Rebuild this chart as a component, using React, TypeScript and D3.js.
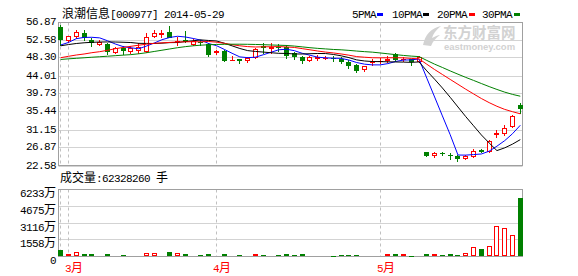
import React from 'react';
import * as d3 from 'd3';

// ---- data ----
const opens = [55.68, 52.70, 53.65, 54.18, 52.70, 51.75, 51.63, 49.65, 50.56, 49.95,
  50.21, 50.08, 53.42, 54.08, 54.42, 52.30, 52.51, 51.63, 52.22, 51.63,
  49.77, 49.96, 47.80, 48.06, 47.74, 48.65, 51.04, 50.75, 50.85, 50.92,
  49.42, 48.54, 47.82, 48.37, 48.20, 48.30, 47.99, 47.42, 46.56, 45.61,
  47.30, 47.55, 47.82, 49.18, 48.00, 47.99, 47.58, 25.84, 25.20, 25.65,
  25.25, 24.96, 24.37, 25.08, 26.32, 26.22, 30.30, 30.37, 32.11, 37.11];
const highs = [56.08, 53.65, 54.97, 54.97, 53.13, 52.58, 51.80, 50.80, 51.04, 51.04,
  51.87, 54.18, 54.97, 54.85, 55.92, 53.37, 54.80, 52.82, 52.58, 51.87,
  50.20, 50.20, 48.70, 48.06, 48.65, 50.56, 51.94, 51.87, 51.63, 51.39,
  49.80, 48.77, 48.77, 49.01, 48.77, 48.77, 48.54, 47.82, 46.87, 46.50,
  47.99, 48.18, 48.77, 49.37, 48.65, 48.13, 48.89, 25.91, 25.84, 25.91,
  25.56, 25.20, 25.20, 26.56, 26.70, 28.77, 31.15, 32.34, 34.72, 37.65];
const lows = [51.47, 51.99, 53.01, 52.70, 51.23, 51.42, 49.18, 49.37, 49.25, 49.49,
  49.42, 49.80, 53.22, 53.30, 53.22, 51.42, 52.10, 51.28, 51.42, 48.77,
  49.25, 47.58, 47.73, 47.04, 47.35, 48.41, 49.56, 49.56, 49.96, 48.30,
  48.06, 47.18, 47.58, 47.82, 47.99, 47.58, 47.11, 45.99, 44.96, 45.20,
  46.56, 46.99, 47.35, 47.58, 47.58, 46.56, 47.35, 24.96, 24.79, 25.13,
  24.25, 23.84, 24.32, 24.79, 25.99, 25.99, 29.41, 29.96, 31.80, 35.13];
const closes = [52.89, 53.46, 54.42, 53.30, 52.10, 52.18, 50.04, 50.56, 50.21, 50.68,
  50.99, 53.22, 54.18, 54.17, 53.37, 52.42, 52.34, 52.46, 52.18, 49.32,
  49.85, 47.94, 47.82, 47.89, 48.41, 50.37, 50.85, 50.85, 50.80, 49.01,
  48.70, 47.75, 48.54, 48.42, 48.30, 48.20, 47.58, 46.56, 45.44, 46.39,
  47.35, 47.58, 48.06, 47.99, 48.06, 47.58, 48.61, 25.20, 25.60, 25.58,
  25.18, 24.41, 25.08, 26.27, 26.25, 28.53, 30.37, 31.70, 34.49, 36.32];
// volume in 万手
const volumes = [620, 250, 460, 277, 277, 157, 277, 157, 130, 157,
  157, 370, 370, 157, 407, 370, 277, 157, 130, 277,
  157, 277, 157, 157, 157, 277, 157, 157, 157, 277,
  157, 277, 157, 157, 157, 65, 157, 157, 157, 65,
  157, 130, 220, 220, 220, 92, 185, 277, 250, 185,
  277, 185, 370, 897, 740, 990, 2840, 2654, 2007, 5456];
const ma5 = [51.40, 52.00, 52.90, 53.20, 53.23, 53.09, 52.41, 51.64, 51.02, 50.73,
  50.50, 51.13, 51.86, 52.65, 53.19, 53.47, 53.30, 52.95, 52.55, 51.74,
  51.23, 50.35, 49.42, 48.56, 48.38, 48.49, 49.07, 49.67, 50.26, 50.38,
  50.04, 49.42, 48.96, 48.48, 48.34, 48.24, 48.21, 47.81, 47.22, 46.83,
  46.66, 46.66, 46.96, 47.47, 47.81, 47.85, 48.06, 43.49, 39.01, 34.51,
  30.03, 25.19, 25.17, 25.30, 25.44, 26.11, 27.30, 28.62, 30.27, 32.28];
const ma10 = [51.20, 51.50, 51.75, 51.92, 52.03, 52.10, 52.12, 52.10, 52.05, 51.98,
  51.79, 51.77, 51.75, 51.83, 51.96, 51.98, 52.21, 52.40, 52.60, 52.47,
  52.35, 51.82, 51.19, 50.56, 50.06, 49.86, 49.71, 49.55, 49.41, 49.38,
  49.26, 49.25, 49.32, 49.37, 49.36, 49.14, 48.82, 48.39, 47.85, 47.59,
  47.45, 47.44, 47.39, 47.35, 47.32, 47.26, 47.36, 45.23, 43.24, 41.16,
  38.94, 36.63, 34.33, 32.16, 29.98, 28.07, 26.25, 26.90, 27.79, 28.86];
const ma20 = [48.37, 48.70, 49.01, 49.25, 49.56, 49.80, 50.13, 50.51, 50.80, 51.08,
  51.34, 51.58, 51.79, 51.91, 52.01, 52.11, 52.15, 52.18, 52.15, 52.22,
  52.07, 51.80, 51.47, 51.20, 51.01, 50.92, 50.96, 50.98, 51.01, 50.92,
  50.81, 50.53, 50.25, 49.96, 49.71, 49.50, 49.26, 48.97, 48.63, 48.48,
  48.36, 48.34, 48.35, 48.36, 48.34, 48.20, 48.09, 46.81, 45.55, 44.37,
  43.20, 42.03, 40.86, 39.75, 38.65, 37.67, 36.80, 36.06, 35.51, 35.01];
const ma30 = [47.95, 48.10, 48.22, 48.35, 48.48, 48.60, 48.72, 48.85, 48.98, 49.10,
  49.30, 49.55, 49.85, 50.15, 50.45, 50.75, 51.00, 51.20, 51.35, 51.45,
  51.52, 51.56, 51.58, 51.58, 51.56, 51.52, 51.47, 51.40, 51.34, 51.28,
  51.14, 50.95, 50.75, 50.59, 50.46, 50.33, 50.25, 50.11, 49.95, 49.81,
  49.69, 49.50, 49.30, 49.09, 48.91, 48.75, 48.63, 47.72, 46.83, 46.04,
  45.22, 44.44, 43.68, 42.96, 42.22, 41.49, 40.81, 40.17, 39.63, 39.20];
const priceTicks = [56.87, 52.58, 48.30, 44.01, 39.73, 35.44, 31.15, 26.87, 22.58];
const volumeTicks = [6233, 4675, 3116, 1558, 0];
const monthLabels = ['3月', '4月', '5月'];
const monthStarts = [1, 20, 41];
const dashedAt = [0, 1, 20, 41];
const maNames = ['5PMA', '10PMA', '20PMA', '30PMA'];
const maColors = ['#0000ff', '#000000', '#ff0000', '#008000'];
const titleText = '浪潮信息[000977] 2014-05-29';
const volTitle = '成交量:62328260 手';

const MONO = "'Liberation Mono', 'DejaVu Sans Mono', monospace";
const CJK = "'Noto Sans CJK SC', sans-serif";
const UP = '#ff0000';
const DOWN = '#008000';
const BORDER = '#a0a0a0';
const GRID = '#d3d3d3';

const Mixed = ({ x, y, text, anchor = 'start', fill = '#000' }:
  { x: number; y: number; text: string; anchor?: string; fill?: string }) => {
  const parts = text.match(/[\u4e00-\u9fff]+|[^\u4e00-\u9fff]+/g) || [];
  return (
    <text x={x} y={y} textAnchor={anchor} fill={fill}>
      {parts.map((p, k) => /[\u4e00-\u9fff]/.test(p)
        ? <tspan key={k} fontFamily={CJK} fontSize={12}>{p}</tspan>
        : <tspan key={k} fontFamily={MONO} fontSize={11} letterSpacing={-0.6} style={{ whiteSpace: 'pre' }}>{p}</tspan>)}
    </text>
  );
};

const crisp = (v: number) => Math.round(v - 0.5) + 0.5;

export default function App() {
  const W = 578, H = 276;
  const left = 58.5, right = 522.5;
  const pTop = 22.5, pBot = 165.5;
  const vTop = 189.5, vBot = 256.5;

  const x = d3.scaleLinear().domain([0, 59]).range([60.7, 520.3]);
  const y = d3.scaleLinear().domain([22.58, 56.87]).range([pBot + 0.5, pTop - 0.5]);
  const yv = d3.scaleLinear().domain([0, 6233]).range([vBot, vTop]);
  const idx = d3.range(closes.length);
  const BW = 5;

  const lineGen = (arr: number[]) =>
    d3.line<number>().x((_, i) => x(i)).y(d => y(d))(arr) || '';

  return (
    <svg width={W} height={H} style={{ position: 'absolute', left: 0, top: 0, background: '#fff' }}>
      <rect width={W} height={H} fill="#fff" />
      <defs>
        <clipPath id="pclip"><rect x={left} y={pTop} width={right - left} height={pBot - pTop} /></clipPath>
      </defs>

      {/* watermark */}
      <g fill="#d2d2d2">
        <path d="M423,45 C425,35 431,28 441,26 C436,30 433,34 432,38 C436,36 438,35 440,35 C436,38 433,41 431,46 Z" />
        <text x={443} y={37.5} fontFamily={CJK} fontWeight={700} fontSize={14.5}>东方财富网</text>
        <text x={444} y={49.5} fontFamily="'Liberation Sans', Arial, sans-serif" fontWeight={700} fontSize={9.5}>eastmoney.com</text>
      </g>

      {/* price grid */}
      {priceTicks.map((t, k) => (
        <g key={'pt' + k}>
          <line x1={left} x2={right} y1={crisp(y(t))} y2={crisp(y(t))} stroke={GRID} />
          <Mixed x={56} y={crisp(y(t)) + 2.5} text={t.toFixed(2)} anchor="end" />
        </g>
      ))}
      {/* volume grid */}
      {volumeTicks.map((t, k) => (
        <g key={'vt' + k}>
          <line x1={left} x2={right} y1={crisp(yv(t))} y2={crisp(yv(t))} stroke={GRID} />
          <Mixed x={56} y={crisp(yv(t)) + 7} text={t === 0 ? '0' : t + '万'} anchor="end" />
        </g>
      ))}

      {/* dashed verticals */}
      {dashedAt.map((i, k) => (
        <g key={'d' + k} stroke="#c0c0c0" strokeDasharray="3,3">
          <line x1={crisp(x(i))} x2={crisp(x(i))} y1={pTop} y2={pBot} />
          <line x1={crisp(x(i))} x2={crisp(x(i))} y1={vTop} y2={vBot} />
        </g>
      ))}

      {/* panel borders */}
      <rect x={left} y={pTop} width={right - left} height={pBot - pTop} fill="none" stroke={BORDER} />
      <rect x={left} y={vTop} width={right - left} height={vBot - vTop} fill="none" stroke={BORDER} />

      {/* candles */}
      {idx.map(i => {
        const l = Math.round(x(i) - BW / 2);
        const cx = l + 2.5;
        const o = y(opens[i]), c = y(closes[i]);
        const up = closes[i] >= opens[i];
        const col = up ? UP : DOWN;
        const top = Math.round(Math.min(o, c));
        const bot = Math.round(Math.max(o, c));
        const hi = Math.round(y(highs[i])), lo = Math.round(y(lows[i]));
        return (
          <g key={'c' + i}>
            <line x1={cx} x2={cx} y1={hi} y2={lo + 1} stroke={col} />
            {bot - top < 1
              ? <line x1={l} x2={l + BW} y1={top + 0.5} y2={top + 0.5} stroke={col} />
              : up
                ? <rect x={l + 0.5} y={top + 0.5} width={BW - 1} height={bot - top} fill="#fff" stroke={col} />
                : <rect x={l} y={top} width={BW} height={bot - top + 1} fill={col} />}
          </g>
        );
      })}

      {/* moving averages */}
      <g clipPath="url(#pclip)" fill="none" strokeWidth={1}>
        {[ma5, ma10, ma20, ma30].map((arr, k) => (
          <path key={'ma' + k} d={lineGen(arr)} stroke={maColors[k]} />
        ))}
      </g>

      {/* volume bars */}
      {idx.map(i => {
        const l = Math.round(x(i) - BW / 2);
        const up = closes[i] >= opens[i];
        const t = Math.round(yv(volumes[i]));
        const b = Math.floor(vBot);
        const h = Math.max(1, b - t);
        return up
          ? <rect key={'v' + i} x={l + 0.5} y={t + 0.5} width={BW - 1} height={h - 1} fill="#fff" stroke={UP} />
          : <rect key={'v' + i} x={l} y={t} width={BW} height={h} fill={DOWN} />;
      })}

      {/* titles */}
      <Mixed x={62} y={17.5} text={titleText} />
      <Mixed x={60} y={182} text={volTitle} />

      {/* legend */}
      {maNames.map((n, k) => {
        const starts = [352, 392, 437, 482];
        const sw = [377, 423, 469, 514];
        return (
          <g key={'lg' + k}>
            <Mixed x={starts[k]} y={17.5} text={n} />
            <rect x={sw[k]} y={13} width={6} height={3} fill={maColors[k]} />
          </g>
        );
      })}

      {/* month labels */}
      {monthStarts.map((i, k) => (
        <Mixed key={'m' + k} x={Math.round(x(i)) - 3} y={272} text={monthLabels[k]} fill="#ff0000" />
      ))}
    </svg>
  );
}
